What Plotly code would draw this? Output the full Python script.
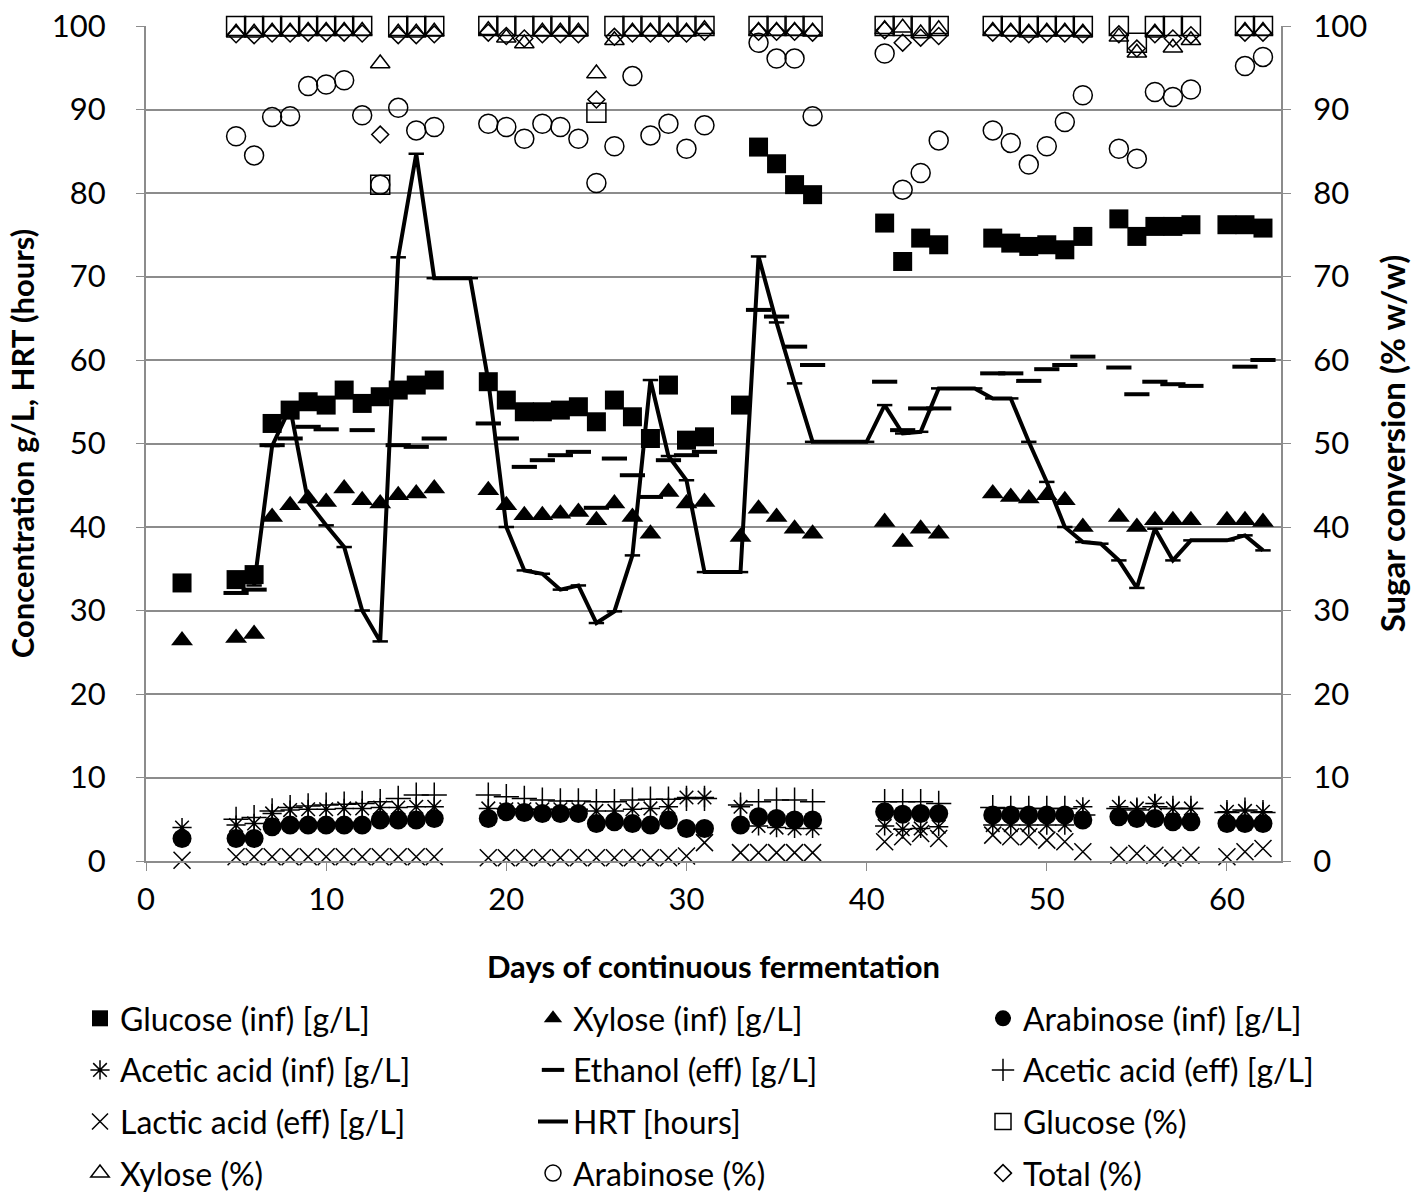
import plotly.graph_objects as go

# ---------------- data ----------------
days_gluc = [2, 5, 6, 7, 8, 9, 10, 11, 12, 13, 14, 15, 16, 19, 20, 21, 22, 23, 24, 25, 26, 27, 28, 29, 30, 31,
             33, 34, 35, 36, 37, 41, 42, 43, 44, 47, 48, 49, 50, 51, 52, 54, 55, 56, 57, 58, 60, 61, 62]
glucose_inf = [33.3, 33.7, 34.3, 52.4, 54.0, 55.0, 54.6, 56.4, 54.8, 55.6, 56.4, 57.0, 57.6, 57.4, 55.2, 53.8,
               53.8, 54.0, 54.4, 52.6, 55.2, 53.2, 50.6, 57.0, 50.4, 50.8,
               54.6, 85.5, 83.5, 81.0, 79.8, 76.4, 71.8, 74.6, 73.8, 74.6, 74.0, 73.6, 73.8, 73.2, 74.8,
               76.9, 74.8, 76.0, 76.0, 76.2, 76.2, 76.2, 75.8]
xylose_inf = [26.4, 26.7, 27.2, 41.2, 42.6, 43.4, 43.0, 44.6, 43.2, 42.8, 43.8, 44.0, 44.6, 44.4, 42.6, 41.4,
              41.4, 41.6, 41.8, 40.8, 42.8, 41.2, 39.2, 44.2, 42.8, 43.0,
              38.8, 42.2, 41.2, 39.8, 39.2, 40.6, 38.2, 39.8, 39.2, 44.0, 43.6, 43.4, 43.8, 43.2, 40.0,
              41.2, 40.0, 40.8, 40.8, 40.8, 40.8, 40.8, 40.6]
arabinose_inf = [2.7, 2.7, 2.7, 4.1, 4.3, 4.3, 4.3, 4.3, 4.3, 4.9, 4.9, 4.9, 5.1, 5.1, 5.9, 5.8,
                 5.7, 5.7, 5.7, 4.5, 4.7, 4.5, 4.3, 4.9, 3.9, 3.9,
                 4.3, 5.3, 5.1, 4.9, 4.9, 5.9, 5.6, 5.7, 5.7, 5.5, 5.5, 5.5, 5.5, 5.5, 4.9,
                 5.3, 5.1, 5.1, 4.7, 4.7, 4.5, 4.5, 4.5]
acetic_inf = [4.0, 4.3, 4.5, 5.7, 6.1, 6.2, 6.2, 6.3, 6.3, 6.4, 6.4, 6.5, 6.5, 6.3, 6.2, 6.2,
              6.2, 6.2, 6.2, 6.0, 6.0, 6.2, 6.3, 6.5, 7.6, 7.6,
              6.5, 4.2, 4.0, 3.9, 3.9, 4.2, 3.8, 3.9, 4.1, 4.3, 4.3, 4.3, 4.3, 4.3, 6.5,
              6.5, 6.3, 6.9, 6.3, 6.3, 5.9, 6.0, 5.9]
acetic_eff = [None, 5.0, 5.2, 6.0, 6.4, 6.6, 6.7, 6.8, 6.9, 7.1, 7.5, 7.9, 7.9, 7.9, 7.7, 7.5,
              7.3, 7.2, 7.2, 7.1, 7.1, 7.3, 7.4, 7.4, 7.5, 7.5,
              6.7, 7.1, 7.3, 7.3, 7.1, 7.1, 7.1, 7.1, 6.9, 6.4, 6.3, 6.3, 6.3, 6.3, 5.5,
              6.3, 6.1, 6.5, 6.3, 6.3, 5.8, 6.1, 5.8]
lactic_eff = [0.1, 0.5, 0.5, 0.5, 0.5, 0.5, 0.5, 0.5, 0.5, 0.5, 0.5, 0.5, 0.5, 0.4, 0.4, 0.4,
              0.4, 0.4, 0.4, 0.4, 0.4, 0.4, 0.4, 0.4, 0.6, 2.2,
              1.0, 1.0, 1.0, 1.0, 1.0, 2.3, 2.9, 3.3, 2.7, 3.1, 2.9, 2.9, 2.5, 2.3, 1.1,
              0.7, 0.9, 0.7, 0.35, 0.7, 0.5, 1.1, 1.5]

days_eth = [5, 6, 7, 8, 9, 10, 12, 14, 15, 16, 19, 20, 21, 22, 23, 24, 25, 26, 27, 28, 29, 30, 31,
            34, 35, 36, 37, 41, 42, 43, 44, 47, 48, 49, 50, 51, 52, 54, 55, 56, 57, 58, 61, 62]
ethanol_eff = [32.1, 32.5, 49.8, 50.6, 52.0, 51.7, 51.6, 49.8, 49.6, 50.6, 52.4, 50.6, 47.2, 48.0, 48.6, 49.0,
               42.3, 48.2, 46.2, 43.6, 48.0, 48.6, 49.0,
               66.0, 65.2, 61.6, 59.4, 57.4, 51.6, 54.2, 54.2, 58.4, 58.4, 57.5, 58.9, 59.4, 60.4,
               59.1, 55.9, 57.4, 57.1, 56.9, 59.2, 60.0]

days_hrt = [6, 7, 8, 9, 10, 11, 12, 13, 14, 15, 16, 17, 18, 19, 20, 21, 22, 23, 24, 25, 26, 27, 28, 29, 30, 31,
            32, 33, 34, 35, 36, 37, 38, 39, 40, 41, 42, 43, 44, 45, 46, 47, 48, 49, 50, 51, 52, 53, 54, 55,
            56, 57, 58, 59, 60, 61, 62]
hrt_hours = [33.0, 49.7, 54.3, 43.0, 40.2, 37.6, 30.0, 26.3, 72.3, 84.7, 69.8, 69.8, 69.8, 57.5, 40.0, 34.8,
             34.4, 32.5, 33.0, 28.5, 29.9, 36.6, 57.6, 48.5, 45.6, 34.6,
             34.6, 34.6, 72.4, 64.5, 57.2, 50.2, 50.2, 50.2, 50.2, 54.6, 51.2, 51.4, 56.6, 56.6, 56.6, 55.4,
             55.4, 50.2, 45.4, 40.0, 38.2, 38.0, 36.0, 32.7, 39.8, 36.0, 38.4, 38.4, 38.4, 39.0, 37.2]

days_conv = [5, 6, 7, 8, 9, 10, 11, 12, 13, 14, 15, 16, 19, 20, 21, 22, 23, 24, 25, 26, 27, 28, 29, 30, 31,
             34, 35, 36, 37, 41, 42, 43, 44, 47, 48, 49, 50, 51, 52, 54, 55, 56, 57, 58, 61, 62]
glucose_pct = [100, 100, 100, 100, 100, 100, 100, 100, 81.0, 100, 100, 100, 100, 100, 100, 100, 100, 100,
               89.6, 100, 100, 100, 100, 100, 100,
               100, 100, 100, 100, 100, 100, 100, 100, 100, 100, 100, 100, 100, 100,
               100, 98.0, 100, 100, 100, 100, 100]
xylose_pct = [99.2, 99.2, 99.3, 99.3, 99.4, 99.4, 99.4, 99.4, 95.5, 99.2, 99.2, 99.3, 99.5, 98.6, 97.9, 99.3,
              99.3, 99.3, 94.3, 98.3, 99.3, 99.3, 99.3, 99.3, 99.6,
              99.4, 99.4, 99.4, 99.3, 99.6, 99.8, 99.1, 99.6, 99.4, 99.3, 99.2, 99.3, 99.3, 99.2,
              98.7, 96.8, 99.2, 97.4, 98.3, 99.4, 99.4]
arabinose_pct = [86.8, 84.5, 89.1, 89.2, 92.8, 93.0, 93.5, 89.3, 81.0, 90.2, 87.5, 87.9, 88.3, 87.9, 86.5, 88.3,
                 87.9, 86.5, 81.2, 85.6, 94.0, 86.9, 88.3, 85.3, 88.1,
                 98.0, 96.1, 96.1, 89.2, 96.7, 80.4, 82.4, 86.3, 87.5, 86.0, 83.4, 85.6, 88.5, 91.7,
                 85.3, 84.1, 92.1, 91.5, 92.4, 95.2, 96.3]
total_pct = [99.0, 98.9, 99.1, 99.1, 99.2, 99.2, 99.2, 99.1, 87.0, 98.9, 98.9, 99.0, 99.2, 98.8, 98.5, 99.0,
             99.0, 99.0, 91.2, 98.7, 99.1, 99.1, 99.1, 99.1, 99.3,
             99.3, 99.3, 99.3, 99.2, 99.5, 98.0, 98.6, 98.8, 99.2, 99.1, 99.0, 99.1, 99.1, 99.0,
             99.0, 97.3, 99.0, 98.5, 98.9, 99.2, 99.2]

x_ticks = [0, 10, 20, 30, 40, 50, 60]
y_ticks = [0, 10, 20, 30, 40, 50, 60, 70, 80, 90, 100]

# ---------------- figure ----------------
FONT = "Lato"
fig = go.Figure()

def add(x, y, name, symbol, size, legend, lw=1.5, yaxis="y", mode="markers", line=None):
    mk = dict(symbol=symbol, size=size, color="black",
              line=dict(color="black", width=lw))
    kw = dict(x=x, y=y, name=name, mode=mode, marker=mk, legend=legend,
              legendgroup=name, yaxis=yaxis, cliponaxis=False)
    if line is not None:
        kw["line"] = line
    fig.add_trace(go.Scatter(**kw))

# column 1: legend, column 2: legend2, column 3: legend3
add(days_gluc, glucose_inf, "Glucose (inf) [g/L]", "square", 19, "legend", lw=0)
add(days_gluc, xylose_inf, "Xylose (inf) [g/L]", "triangle-up", 19, "legend2", lw=0)
add(days_gluc, arabinose_inf, "Arabinose (inf) [g/L]", "circle", 19, "legend3", lw=0)
add(days_gluc, acetic_inf, "Acetic acid (inf) [g/L]", "asterisk-open", 16, "legend", lw=1.5)
add(days_eth, ethanol_eff, "Ethanol (eff) [g/L]", "line-ew-open", 18, "legend2", lw=4)
add(days_gluc, acetic_eff, "Acetic acid (eff) [g/L]", "cross-thin-open", 18, "legend3", lw=1.5)
add(days_gluc, lactic_eff, "Lactic acid (eff) [g/L]", "x-thin-open", 17, "legend", lw=1.5)
add(days_hrt, hrt_hours, "HRT [hours]", "line-ew-open", 11, "legend2", lw=2.5,
    mode="lines+markers", line=dict(color="black", width=4))
add(days_conv, glucose_pct, "Glucose (%)", "square-open", 19, "legend3", lw=1.5, yaxis="y2")
add(days_conv, xylose_pct, "Xylose (%)", "triangle-up-open", 17, "legend", lw=1.5, yaxis="y2")
add(days_conv, arabinose_pct, "Arabinose (%)", "circle-open", 19, "legend2", lw=1.5, yaxis="y2")
add(days_conv, total_pct, "Total (%)", "diamond-open", 13, "legend3", lw=1.5, yaxis="y2")

L, R, T, B = 146, 143, 26, 331
W, H = 1424, 1192
ph = H - T - B
pw = W - L - R

def py(page_y):
    return (H - B - page_y) / ph

def px(page_x):
    return (page_x - L) / pw

legend_common = dict(orientation="v", font=dict(family=FONT, size=32, color="black"),
                     bgcolor="rgba(0,0,0,0)", xanchor="left", yanchor="top",
                     itemsizing="trace", traceorder="grouped", tracegroupgap=7)
legends = {
    "legend": dict(legend_common, x=px(80), y=py(991)),
    "legend2": dict(legend_common, x=px(533), y=py(991)),
    "legend3": dict(legend_common, x=px(983), y=py(991)),
}

grid_c = "#8c8c8c"
tick_font = dict(family=FONT, size=31, color="black")
fig.update_layout(
    width=W, height=H,
    margin=dict(l=L, r=R, t=T, b=B, pad=0, autoexpand=False),
    paper_bgcolor="white", plot_bgcolor="white",
    font=dict(family=FONT, color="black"),
    showlegend=True,
    xaxis=dict(range=[0, 63], tickvals=x_ticks, showgrid=False, zeroline=False,
               showline=True, linecolor=grid_c, linewidth=2,
               ticks="outside", ticklen=8, tickcolor=grid_c, ticklabelstandoff=2,
               tickfont=tick_font,
               title=dict(text="<b>Days of continuous fermentation</b>",
                          font=dict(family=FONT, size=31, color="black"), standoff=40)),
    yaxis=dict(range=[0, 100], tickvals=y_ticks, showgrid=True, gridcolor=grid_c, gridwidth=2,
               zeroline=False, showline=True, linecolor=grid_c, linewidth=2,
               ticks="outside", ticklen=8, tickcolor=grid_c, ticklabelstandoff=24,
               tickfont=tick_font,
               title=dict(text="<b>Concentration g/L, HRT (hours)</b>",
                          font=dict(family=FONT, size=31, color="black"), standoff=8)),
    yaxis2=dict(range=[0, 100], tickvals=y_ticks, overlaying="y", side="right",
                showgrid=False, zeroline=False, showline=True, linecolor=grid_c, linewidth=2,
                ticks="outside", ticklen=8, tickcolor=grid_c, ticklabelstandoff=16,
                tickfont=tick_font,
                title=dict(text="<b>Sugar conversion (% w/w)</b>",
                           font=dict(family=FONT, size=33, color="black"), standoff=16)),
    **legends,
)

fig.write_html("out.html")
